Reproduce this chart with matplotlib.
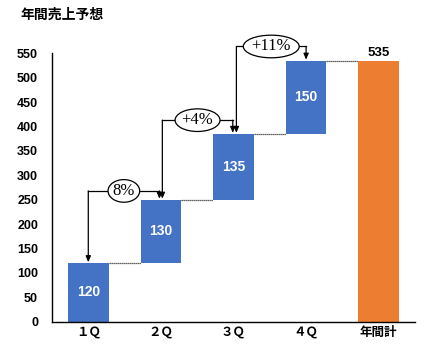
import matplotlib
matplotlib.use("Agg")
import matplotlib.pyplot as plt

plt.rcParams['font.family'] = ['Liberation Sans', 'Noto Sans CJK JP', 'DejaVu Sans']

title = "年間売上予想"
categories = ["１Ｑ", "２Ｑ", "３Ｑ", "４Ｑ", "年間計"]
quarter_values = [120, 130, 135, 150]
total_value = 535
growth_labels = ["8%", "+4%", "+11%"]
yticks = list(range(0, 551, 50))

blue = "#4472C4"
orange = "#ED7D31"

fig = plt.figure(figsize=(4.47, 3.59), dpi=100)
ax = fig.add_axes([0.1163, 0.1039, 0.9284 - 0.1163, 0.8515 - 0.1039])

bw = 0.56
bottoms = []
cum = 0
for v in quarter_values:
    bottoms.append(cum)
    cum += v
tops = [b + v for b, v in zip(bottoms, quarter_values)]

x = list(range(len(categories)))
ax.bar(x[:4], quarter_values, bottom=bottoms, width=bw, color=blue, zorder=2)
ax.bar(x[4], total_value, width=bw, color=orange, zorder=2)

for i, (b, v) in enumerate(zip(bottoms, quarter_values)):
    ax.text(i, b + v / 2, str(v), ha='center', va='center', color='white',
            fontsize=10, fontweight='bold', zorder=3)
ax.text(4, total_value + 4, str(total_value), ha='center', va='bottom',
        color='black', fontsize=9.5, fontweight='bold')

# dotted connectors
for i, lvl in enumerate(tops):
    ax.plot([i + bw / 2, i + 1 - bw / 2], [lvl, lvl], ls=(0, (1, 0.6)),
            color='#333333', lw=0.9, zorder=1)

# brackets
bracket_offsets = [18, 28, 29]
xoffs = [(0.0, -0.02), (0.02, -0.01), (0.04, 0.0)]
for j, lab in enumerate(growth_labels):
    lvl = tops[j + 1] + bracket_offsets[j]
    xl = j + xoffs[j][0]
    xr = j + 1 + xoffs[j][1]
    ax.plot([xl, xr], [lvl, lvl], color='black', lw=0.9, clip_on=False, zorder=4)
    for xx, tgt in [(xl, tops[j]), (xr, tops[j + 1])]:
        ax.annotate("", xy=(xx, tgt + 2), xytext=(xx, lvl),
                    arrowprops=dict(arrowstyle='-|>,head_length=0.35,head_width=0.15',
                                    color='black', lw=0.9, shrinkA=0, shrinkB=0),
                    annotation_clip=False, zorder=4)
    ax.text((xl + xr) / 2, lvl, lab, ha='center', va='center', fontsize=12,
            family=['Liberation Serif', 'DejaVu Serif'],
            bbox=dict(boxstyle='ellipse,pad=0.0', fc='white', ec='black', lw=0.9),
            zorder=5, clip_on=False)

ax.set_xlim(-0.5, 4.5)
ax.set_ylim(0, 550)
ax.set_yticks(yticks)
ax.set_xticks(x)
ax.set_xticklabels(categories, fontsize=9, fontweight='bold')
ax.tick_params(axis='both', length=0, labelsize=9, pad=4)
for lbl in ax.get_yticklabels():
    lbl.set_fontweight('bold')
ax.tick_params(axis='y', pad=10)
for s in ['top', 'right']:
    ax.spines[s].set_visible(False)
for s in ['left', 'bottom']:
    ax.spines[s].set_color('black')
    ax.spines[s].set_linewidth(1.0)

fig.text(20 / 447, 1 - 15 / 359, title, ha='left', va='center', fontsize=10,
         fontweight='bold')

fig.savefig("out.png", dpi=100)
